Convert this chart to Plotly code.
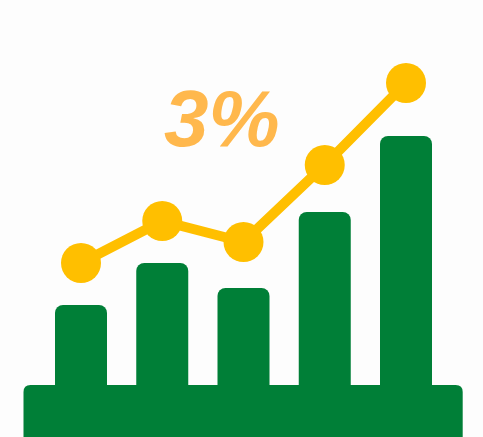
import plotly.graph_objects as go

# Data
positions = [0, 1, 2, 3, 4]
bar_values = [80, 122, 97, 173, 249]
line_values = [122, 164, 143, 220, 302]
label_text = "3%"

GREEN = "#007F37"
YELLOW = "#FFBF00"
ORANGE = "#FFB84D"

fig = go.Figure()

fig.add_trace(go.Bar(
    x=positions, y=bar_values, width=0.64,
    marker=dict(color=GREEN, line=dict(width=0)),
    hoverinfo="skip",
))

fig.add_trace(go.Scatter(
    x=positions, y=line_values, mode="lines+markers",
    line=dict(color=YELLOW, width=10),
    marker=dict(color=YELLOW, size=40, line=dict(width=0)),
    hoverinfo="skip",
))

# Base platform with rounded top corners
x0, x1 = 23.5 / 483, 462.7 / 483
rx, ry = 7 / 483, 7
ytop, ybot = 0, -60
path = (f"M {x0},{ybot} L {x0},{ytop - ry} Q {x0},{ytop} {x0 + rx},{ytop} "
        f"L {x1 - rx},{ytop} Q {x1},{ytop} {x1},{ytop - ry} L {x1},{ybot} Z")
fig.add_shape(type="path", path=path, xref="paper", yref="y",
              fillcolor=GREEN, line=dict(width=0), layer="below")

fig.add_annotation(
    x=(222 - 81) / 81.25, y=267, xref="x", yref="y", text=label_text, showarrow=False,
    font=dict(family="Liberation Sans, Arial, sans-serif", size=80, color=ORANGE,
              weight="bold", style="italic"),
    xanchor="center", yanchor="middle",
)

fig.update_layout(
    width=483, height=437,
    margin=dict(l=0, r=0, t=0, b=0),
    paper_bgcolor="#fdfdfd", plot_bgcolor="#fdfdfd",
    showlegend=False,
    barcornerradius=8,
    xaxis=dict(range=[-81 / 81.25, (483 - 81) / 81.25], visible=False, fixedrange=True),
    yaxis=dict(range=[-52, 385], visible=False, fixedrange=True),
)

fig.write_html("out.html")
